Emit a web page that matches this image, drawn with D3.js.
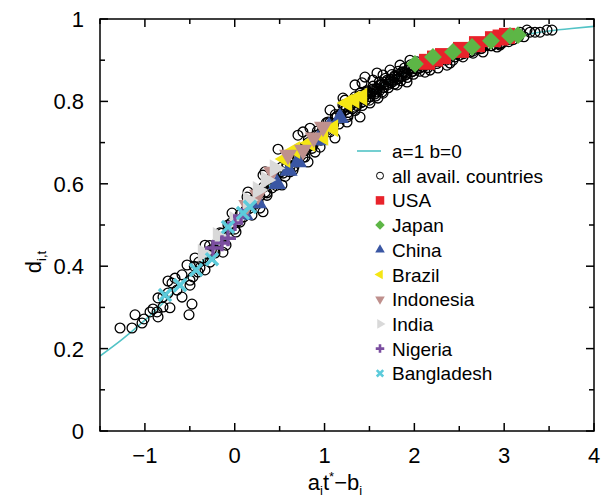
<!DOCTYPE html>
<html>
<head>
<meta charset="utf-8">
<script src="https://cdn.jsdelivr.net/npm/d3@7"></script>
<style>
  body { margin: 0; background: #fff; }
  svg { font-family: "Liberation Sans", Arial, Helvetica, sans-serif; }
</style>
</head>
<body>
<svg id="chart" width="603" height="499"></svg>
<script>
// model curve a=1 b=0
const curvePts = [[-1.5,0.182],[-1.25,0.223],[-1,0.269],[-0.75,0.321],[-0.5,0.378],[-0.25,0.438],[0,0.5],
  [0.25,0.562],[0.5,0.622],[0.75,0.679],[1,0.731],[1.25,0.777],[1.5,0.818],[1.75,0.852],[2,0.881],
  [2.25,0.905],[2.5,0.924],[2.75,0.94],[3,0.953],[3.25,0.963],[3.5,0.971],[3.75,0.977],[4,0.982]];

// all available countries (open circles)
const allCountries = [[-1.277,0.250],[-1.144,0.250],[-1.110,0.282],[-1.032,0.262],[-1.010,0.272],[-0.943,0.289],
  [-0.910,0.296],[-0.854,0.277],[-0.865,0.289],[-0.799,0.301],[-0.799,0.325],[-0.854,0.323],[-0.743,0.335],
  [-0.743,0.364],[-0.698,0.359],[-0.721,0.299],[-0.643,0.342],[-0.665,0.371],[-0.587,0.379],[-0.587,0.325],
  [-0.531,0.403],[-0.498,0.354],[-0.498,0.366],[-0.476,0.308],[-0.509,0.282],[-0.465,0.374],[-0.442,0.420],
  [-0.409,0.386],[-0.387,0.396],[-0.331,0.391],[-0.331,0.451],[-0.275,0.410],[-0.220,0.432],[-0.164,0.481],
  [-0.131,0.434],[-0.097,0.451],[-0.075,0.500],[-0.030,0.529],[0.014,0.483],[0.059,0.507],[0.137,0.568],
  [0.148,0.580],[0.192,0.524],[0.281,0.541],[0.315,0.532],[0.315,0.621],[0.337,0.629],[0.359,0.578],
  [0.415,0.590],[0.482,0.684],[0.526,0.597],[0.615,0.629],[0.649,0.633],[0.704,0.718],[0.760,0.726],
  [0.782,0.665],[0.816,0.653],[0.838,0.735],[0.872,0.694],[0.894,0.677],[0.950,0.689],[1.039,0.750],
  [1.061,0.779],[1.116,0.711],[1.205,0.791],[1.205,0.808],[1.228,0.803],[1.250,0.750],[1.261,0.767],
  [1.317,0.803],[1.339,0.811],[1.339,0.840],[1.395,0.762],[1.395,0.820],[1.417,0.845],[1.450,0.859],
  [1.473,0.823],[1.506,0.796],[1.539,0.852],[1.584,0.869],[1.595,0.808],[1.651,0.864],[1.651,0.820],
  [1.729,0.876],[1.807,0.840],[1.840,0.888],[1.918,0.847],[1.951,0.900],[2.118,0.871],[2.174,0.876],
  [2.263,0.881],[2.363,0.888],[2.397,0.893],[2.430,0.900],[2.541,0.908],[2.653,0.917],[2.764,0.920],
  [2.920,0.932],[2.953,0.937],[3.176,0.968],[3.254,0.973],[3.287,0.968],[3.343,0.968],[3.399,0.968],
  [3.477,0.973],[3.532,0.973],
  // densest stretch of the band
  [-0.45,0.40],[-0.40,0.41],[-0.35,0.42],[-0.28,0.45],[-0.20,0.455],[-0.14,0.48],[-0.04,0.505],[0.06,0.525],
  [0.12,0.535],[0.20,0.56],[0.26,0.555],
  [-0.30,0.43],[-0.26,0.44],[-0.22,0.44],[-0.18,0.46],[-0.12,0.47],[-0.06,0.49],[0.00,0.49],[0.04,0.51],
  [0.10,0.52],[0.16,0.54],[0.22,0.55],[0.28,0.57],[0.34,0.58],[0.40,0.60],[0.46,0.61],[0.52,0.63],
  [0.58,0.64],[0.64,0.66],[0.70,0.67],[0.76,0.68],[0.82,0.69],[0.88,0.71],[0.94,0.72],[1.00,0.73],
  [1.06,0.74],[1.12,0.76],[1.18,0.77],[1.24,0.78],
  [0.32,0.592],[0.42,0.618],[0.52,0.640],[0.62,0.664],[0.72,0.686],[0.82,0.708],[0.92,0.728],[1.02,0.748],
  [1.12,0.768],[1.22,0.786],[1.32,0.803],[1.40,0.815],[1.47,0.826],[1.54,0.837],[1.61,0.847],[1.68,0.856],
  [1.75,0.865],[1.82,0.873],[1.89,0.881],[1.96,0.889],[2.03,0.896],
  [0.36,0.572],[0.46,0.596],[0.56,0.618],[0.66,0.642],[0.76,0.664],[0.86,0.686],[0.96,0.706],[1.06,0.726],
  [1.16,0.745],[1.26,0.763],[1.34,0.778],[1.42,0.790],[1.50,0.803],[1.57,0.813],[1.64,0.823],[1.71,0.833],
  [1.78,0.842],[1.85,0.850],[1.92,0.858],[1.99,0.866],[2.06,0.873],[2.15,0.882],[2.25,0.892],[2.35,0.900],
  [2.45,0.908],[2.55,0.916],[2.65,0.922],[2.75,0.929],[2.85,0.935],[2.95,0.940],[3.05,0.945],
  [1.37,0.80],[1.44,0.81],[1.52,0.82],[1.59,0.83],[1.66,0.84],[1.74,0.85],[1.81,0.86],[1.89,0.87],
  [1.96,0.878],[2.04,0.886],
  [1.28,0.790],[1.31,0.782],[1.33,0.797],[1.36,0.790],[1.38,0.805],[1.41,0.797],[1.43,0.812],[1.46,0.804],
  [1.48,0.818],[1.51,0.811],[1.53,0.826],[1.56,0.818],[1.58,0.832],[1.61,0.826],[1.63,0.840],[1.66,0.834],
  [1.68,0.847],[1.71,0.841],[1.73,0.853],[1.76,0.848],[1.78,0.860],[1.81,0.855],[1.83,0.866],[1.86,0.861],
  [1.88,0.872],[1.91,0.866],[1.94,0.878],[1.97,0.872],[2.00,0.884],[2.03,0.878],[2.07,0.889],[2.10,0.884],
  [2.14,0.894],[2.18,0.890],[2.22,0.900],[2.27,0.897],[2.32,0.906],[2.38,0.904],[2.44,0.914],[2.50,0.912],
  [2.56,0.921],[2.62,0.920],[2.68,0.929],[2.74,0.928],[2.80,0.936],[2.86,0.935],[2.92,0.943],[2.98,0.942],
  [3.04,0.950],[3.10,0.950],[3.16,0.957],[3.22,0.957],
  [0.50,0.628],[0.54,0.626],[0.58,0.647],[0.62,0.644],[0.66,0.665],[0.70,0.662],[0.74,0.683],[0.78,0.680],
  [0.82,0.700],[0.86,0.697],[0.90,0.717],[0.94,0.713],[0.98,0.733],[1.02,0.729],[1.06,0.749],[1.10,0.744],
  [1.14,0.764],[1.18,0.759],[1.22,0.778],[1.26,0.773],[1.30,0.792],[1.34,0.786],[1.38,0.805],[1.42,0.799],
  [1.46,0.818],[1.50,0.812],[1.54,0.830],[1.58,0.823],[1.62,0.841],[1.66,0.834],[1.70,0.852],[1.74,0.845],
  [1.78,0.862],[1.82,0.855],[1.86,0.871],[1.90,0.864],[1.94,0.880],[1.98,0.873],[2.02,0.889],[2.06,0.881],
  [2.10,0.897],[2.14,0.889],[2.18,0.904],[2.22,0.896]];

const usa = [[2.141,0.896],[2.230,0.904],[2.319,0.910],[2.519,0.925],[2.697,0.939],[2.875,0.951],[2.960,0.955],[3.031,0.959]];
const japan = [[2.007,0.891],[2.207,0.908],[2.430,0.920],[2.642,0.932],[2.853,0.947],[3.065,0.959],[3.154,0.961]];
const china = [[0.110,0.525],[0.259,0.553],[0.471,0.600],[0.600,0.632],[0.704,0.653],[0.927,0.706],[1.050,0.738],[1.172,0.760]];
const brazil = [[0.560,0.660],[0.671,0.682],[0.838,0.699],[0.983,0.714],[1.094,0.735],[1.250,0.796],[1.330,0.804],[1.417,0.811]];
const indonesia = [[0.140,0.548],[0.259,0.573],[0.415,0.629],[0.593,0.670],[0.760,0.682],[0.880,0.712],[0.983,0.738]];
const india = [[-0.353,0.432],[-0.186,0.473],[0.000,0.512],[0.150,0.560],[0.259,0.585],[0.348,0.609],[0.448,0.638]];
const nigeria = [[-0.242,0.444],[-0.142,0.456],[-0.075,0.468],[0.003,0.505],[0.070,0.522]];
const bangladesh = [[-0.776,0.330],[-0.609,0.354],[-0.431,0.391],[-0.253,0.417],[-0.075,0.495],[0.092,0.529],[0.170,0.544]];

const xTicks = [-1, 0, 1, 2, 3, 4];
const yTicks = [0, 0.2, 0.4, 0.6, 0.8, 1];

const svg = d3.select("#chart");
const x = d3.scaleLinear().domain([-1.5, 4]).range([100, 594]);
const y = d3.scaleLinear().domain([0, 1]).range([431, 19]);

const plot = svg.append("g");
plot.append("clipPath").attr("id", "clip").append("rect")
  .attr("x", 100).attr("y", 19).attr("width", 494).attr("height", 412);

// model curve
plot.append("path")
  .datum(curvePts)
  .attr("clip-path", "url(#clip)")
  .attr("fill", "none")
  .attr("stroke", "#52c3c6")
  .attr("stroke-width", 1.6)
  .attr("d", d3.line().x(d => x(d[0])).y(d => y(d[1])).curve(d3.curveMonotoneX));

plot.selectAll("circle.all")
  .data(allCountries)
  .enter().append("circle")
  .attr("class", "all")
  .attr("cx", d => x(d[0])).attr("cy", d => y(d[1]))
  .attr("r", 4.9)
  .attr("fill", "none")
  .attr("stroke", "#000")
  .attr("stroke-width", 1.3);

// marker drawing helpers
function symPath(type, size) { return d3.symbol().type(type).size(size)(); }
function crossPath(r) { return "M" + (-r) + ",0H" + r + "M0," + (-r) + "V" + r; }
function xPath(r) { return "M" + (-r) + "," + (-r) + "L" + r + "," + r + "M" + (-r) + "," + r + "L" + r + "," + (-r); }

const series = [
  { name: "USA", data: usa, color: "#e8232b", mk: s => ({ d: symPath(d3.symbolSquare, s * s), rot: 0, fill: true }) },
  { name: "Japan", data: japan, color: "#5db646", mk: s => ({ d: symPath(d3.symbolSquare, s * s * 0.62), rot: 45, fill: true }) },
  { name: "China", data: china, color: "#3a56a3", mk: s => ({ d: symPath(d3.symbolTriangle, s * s * 0.55), rot: 0, fill: true }) },
  { name: "Brazil", data: brazil, color: "#f5e614", mk: s => ({ d: symPath(d3.symbolTriangle, s * s * 0.55), rot: -90, fill: true }) },
  { name: "Indonesia", data: indonesia, color: "#bf908d", mk: s => ({ d: symPath(d3.symbolTriangle, s * s * 0.55), rot: 180, fill: true }) },
  { name: "India", data: india, color: "#d9d9d9", mk: s => ({ d: symPath(d3.symbolTriangle, s * s * 0.55), rot: 90, fill: true }) },
  { name: "Nigeria", data: nigeria, color: "#7b4ea0", mk: s => ({ d: crossPath(s * 0.5), rot: 0, fill: false }) },
  { name: "Bangladesh", data: bangladesh, color: "#5ccbdb", mk: s => ({ d: xPath(s * 0.38), rot: 0, fill: false }) }
];

function drawMarker(g, sr, cx, cy, s, sw) {
  const m = sr.mk(s);
  g.append("path")
    .attr("d", m.d)
    .attr("transform", "translate(" + cx + "," + cy + ") rotate(" + m.rot + ")")
    .attr("fill", m.fill ? sr.color : "none")
    .attr("stroke", m.fill ? "none" : sr.color)
    .attr("stroke-width", m.fill ? 0 : sw);
}

series.forEach(sr => {
  const g = plot.append("g");
  sr.data.forEach(d => drawMarker(g, sr, x(d[0]), y(d[1]), 16, 3.4));
});

// frame with inward ticks on every side
const ax = svg.append("g").attr("stroke", "#000").attr("fill", "none");
ax.append("rect").attr("x", 100).attr("y", 19).attr("width", 494).attr("height", 412).attr("stroke-width", 1.5);
d3.range(-1.5, 4.01, 0.5).forEach(v => {
  const len = Number.isInteger(v) ? 8 : 5;
  ax.append("line").attr("x1", x(v)).attr("x2", x(v)).attr("y1", 431).attr("y2", 431 - len).attr("stroke-width", 1.5);
  ax.append("line").attr("x1", x(v)).attr("x2", x(v)).attr("y1", 19).attr("y2", 19 + len).attr("stroke-width", 1.5);
});
d3.range(0, 1.001, 0.1).forEach((v, i) => {
  const len = i % 2 === 0 ? 8 : 5;
  ax.append("line").attr("y1", y(v)).attr("y2", y(v)).attr("x1", 100).attr("x2", 100 + len).attr("stroke-width", 1.5);
  ax.append("line").attr("y1", y(v)).attr("y2", y(v)).attr("x1", 594).attr("x2", 594 - len).attr("stroke-width", 1.5);
});

const fmtY = d => d === 0 || d === 1 ? String(d) : d.toFixed(1);
svg.selectAll("text.yt").data(yTicks).enter().append("text")
  .attr("x", 84).attr("y", d => y(d) + 8)
  .attr("text-anchor", "end").attr("font-size", 22)
  .text(fmtY);
svg.selectAll("text.xt").data(xTicks).enter().append("text")
  .attr("x", d => x(d)).attr("y", 463)
  .attr("text-anchor", "middle").attr("font-size", 22)
  .text(d => d < 0 ? "\u2212" + Math.abs(d) : String(d));

// axis titles
const xl = svg.append("text").attr("x", 335).attr("y", 490).attr("text-anchor", "middle").attr("font-size", 22);
xl.append("tspan").text("a");
xl.append("tspan").attr("font-size", 13).attr("dy", 5).text("i");
xl.append("tspan").attr("dy", -5).text("t");
xl.append("tspan").attr("font-size", 13).attr("dy", -9).text("*");
xl.append("tspan").attr("dy", 9).text("\u2212b");
xl.append("tspan").attr("font-size", 13).attr("dy", 5).text("i");

const yl = svg.append("text").attr("transform", "translate(41,262) rotate(-90)").attr("text-anchor", "middle").attr("font-size", 22);
yl.append("tspan").text("d");
yl.append("tspan").attr("font-size", 13).attr("dy", 5).text("i,t");

// legend
const lg = svg.append("g").attr("font-size", 19);
const rowY = i => 151 + i * 24.7;
lg.append("line").attr("x1", 357).attr("x2", 381).attr("y1", rowY(0)).attr("y2", rowY(0))
  .attr("stroke", "#52c3c6").attr("stroke-width", 1.6);
lg.append("text").attr("x", 392).attr("y", rowY(0) + 7).text("a=1 b=0");
lg.append("circle").attr("cx", 380).attr("cy", rowY(1)).attr("r", 3.5)
  .attr("fill", "none").attr("stroke", "#000").attr("stroke-width", 1);
lg.append("text").attr("x", 392).attr("y", rowY(1) + 7).text("all avail. countries");
series.forEach((sr, i) => {
  drawMarker(lg, sr, 380, rowY(i + 2), 8.5, 2.6);
  lg.append("text").attr("x", 392).attr("y", rowY(i + 2) + 7).text(sr.name);
});
</script>
</body>
</html>
